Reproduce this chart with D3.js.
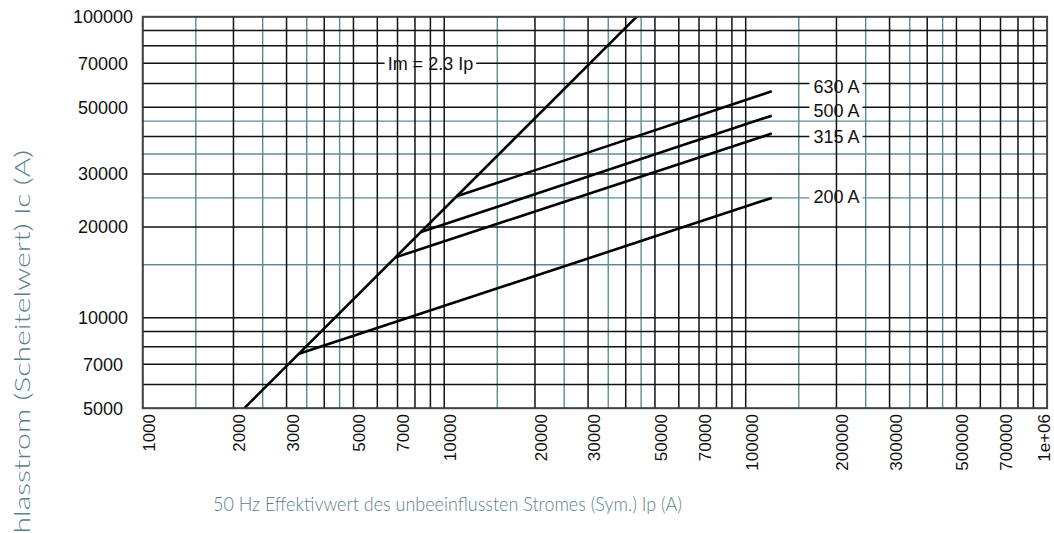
<!DOCTYPE html>
<html>
<head>
<meta charset="utf-8">
<script src="https://cdn.jsdelivr.net/npm/d3@7"></script>
<style>
  body { margin: 0; background: #fff; }
  svg { display: block; }
</style>
</head>
<body>
<div id="chart"></div>
<script>
// tick labels
var xTicks = [1000, 2000, 3000, 5000, 7000, 10000, 20000, 30000, 50000, 70000,
              100000, 200000, 300000, 500000, 700000, 1000000];
var yTicks = [5000, 7000, 10000, 20000, 30000, 50000, 70000, 100000];

// teal grid lines (half steps)
var tealX = [1500, 2500, 3500, 4500, 15000, 25000, 35000, 45000,
             150000, 250000, 350000, 450000];
var tealY = [15000, 25000, 35000, 45000];

// curves: Ip (A) -> Ic (A)
var imIp = [2170, 43500],
    imIc = [5000, 100000];

var seriesNames = ["200 A", "315 A", "500 A", "630 A"];
var seriesIp = [[3300, 122000], [6900, 122000], [8370, 122000], [11000, 122000]];
var seriesIc = [[7590, 25000], [15870, 40900], [19250, 46900], [25300, 56500]];

// label anchors (data coords)
var labelIp = [200000, 200000, 200000, 200000];
var labelIc = [25300, 40000, 48900, 58500];
var imLabel = "Im = 2.3 Ip",
    imLabelIp = 9000,
    imLabelIc = 70000;

var xTitle = "50 Hz Effektivwert des unbeeinflussten Stromes (Sym.) Ip (A)";
var yTitle = "Durchlasstrom (Scheitelwert) Ic (A)";

var W = 1054, H = 533;
var titleColor = "#5b7f8b",
    teal = "#5b8c96";

var svg = d3.select("#chart").append("svg")
	.attr("width", W)
	.attr("height", H);

var x = d3.scaleLog().domain([1000, 1000000]).range([142.7, 1047.2]);
var y = d3.scaleLog().domain([5000, 100000]).range([408.3, 16.7]);

var x0 = x.range()[0], x1 = x.range()[1],
    y0 = y.range()[1], y1 = y.range()[0];

// teal vertical lines
svg.append("g").selectAll("line")
	.data(tealX).enter().append("line")
	.attr("x1", function(d) { return x(d); })
	.attr("x2", function(d) { return x(d); })
	.attr("y1", y0).attr("y2", y1)
	.style("stroke", teal)
	.style("stroke-width", 1.4);

// horizontal lines
svg.append("g").selectAll("line")
	.data(tealY).enter().append("line")
	.attr("x1", x0).attr("x2", x1)
	.attr("y1", function(d) { return y(d); })
	.attr("y2", function(d) { return y(d); })
	.style("stroke", teal)
	.style("stroke-width", 1.4);

svg.append("g").selectAll("line")
	.data(y.ticks()).enter().append("line")
	.attr("x1", x0).attr("x2", x1)
	.attr("y1", function(d) { return y(d); })
	.attr("y2", function(d) { return y(d); })
	.style("stroke", "#111")
	.style("stroke-width", 1.5);

// white boxes behind labels, then black verticals over them
var bgG = svg.append("g");
var vG = svg.append("g");
var lineG = svg.append("g");
var textG = svg.append("g");

var allLabels = [{t: imLabel, ip: imLabelIp, ic: imLabelIc, padL: 3, padR: 3}];
seriesNames.forEach(function(n, i) {
	allLabels.push({t: n, ip: labelIp[i], ic: labelIc[i], padL: 4, padR: 3});
});

var texts = textG.selectAll("text")
	.data(allLabels).enter().append("text")
	.attr("x", function(d) { return x(d.ip); })
	.attr("y", function(d) { return y(d.ic); })
	.attr("dy", "0.35em")
	.attr("text-anchor", "middle")
	.style("font-family", "'Liberation Sans', Arial, sans-serif")
	.style("font-size", "18px")
	.style("fill", "#111")
	.text(function(d) { return d.t; });

texts.each(function(d) {
	var b = this.getBBox();
	bgG.append("rect")
		.attr("x", b.x - d.padL)
		.attr("y", y(d.ic) - 9)
		.attr("width", b.width + d.padL + d.padR)
		.attr("height", 18)
		.style("fill", "#fff");
});

vG.selectAll("line")
	.data(x.ticks()).enter().append("line")
	.attr("x1", function(d) { return x(d); })
	.attr("x2", function(d) { return x(d); })
	.attr("y1", y0).attr("y2", y1)
	.style("stroke", "#111")
	.style("stroke-width", 1.5);

var path = d3.line()
	.x(function(d) { return x(d[0]); })
	.y(function(d) { return y(d[1]); });

lineG.append("path")
	.datum(d3.zip(imIp, imIc))
	.attr("d", path)
	.style("fill", "none")
	.style("stroke", "#000")
	.style("stroke-width", 2.6);

lineG.selectAll(".curve")
	.data(seriesIp.map(function(ip, i) { return d3.zip(ip, seriesIc[i]); }))
	.enter().append("path")
	.attr("class", "curve")
	.attr("d", path)
	.style("fill", "none")
	.style("stroke", "#000")
	.style("stroke-width", 2.6);

// frame
svg.append("rect")
	.attr("x", x0).attr("y", y0)
	.attr("width", x1 - x0).attr("height", y1 - y0)
	.style("fill", "none")
	.style("stroke", "#444")
	.style("stroke-width", 1.8);

// tick labels
svg.append("g").selectAll("text")
	.data(xTicks).enter().append("text")
	.attr("transform", function(d) {
		return "translate(" + Math.min(x(d) + 12, 1050) + ",414) rotate(-90)";
	})
	.attr("text-anchor", "end")
	.style("font-family", "'Liberation Sans', Arial, sans-serif")
	.style("font-size", "17px")
	.style("fill", "#111")
	.text(function(d) { return d === 1000000 ? "1e+06" : String(d); });

svg.append("g").selectAll("text")
	.data(yTicks).enter().append("text")
	.attr("x", 103)
	.attr("y", function(d) { return y(d); })
	.attr("dy", "0.35em")
	.attr("text-anchor", "middle")
	.style("font-family", "'Liberation Sans', Arial, sans-serif")
	.style("font-size", "18px")
	.style("fill", "#111")
	.text(function(d) { return String(d); });

// axis titles
svg.append("text")
	.attr("x", 213)
	.attr("y", 511)
	.attr("textLength", 469)
	.attr("lengthAdjust", "spacingAndGlyphs")
	.style("font-family", "Lato, sans-serif")
	.style("font-weight", 300)
	.style("font-size", "20.5px")
	.style("fill", titleColor)
	.text(xTitle);

// y title: stretched along its length like the reference
var yt = svg.append("text")
	.attr("text-anchor", "end")
	.style("font-family", "Lato, sans-serif")
	.style("font-weight", 300)
	.style("font-size", "21px")
	.style("fill", titleColor)
	.text(yTitle);
var tmp = svg.append("text")
	.style("font-family", "Lato, sans-serif")
	.style("font-weight", 300)
	.style("font-size", "21px")
	.text(yTitle.slice(yTitle.indexOf("lasstrom")));
var stretch = 367 / tmp.node().getComputedTextLength();
tmp.remove();
yt.attr("transform", "translate(30,150) rotate(-90) scale(" + stretch + ",1)");
</script>
</body>
</html>
